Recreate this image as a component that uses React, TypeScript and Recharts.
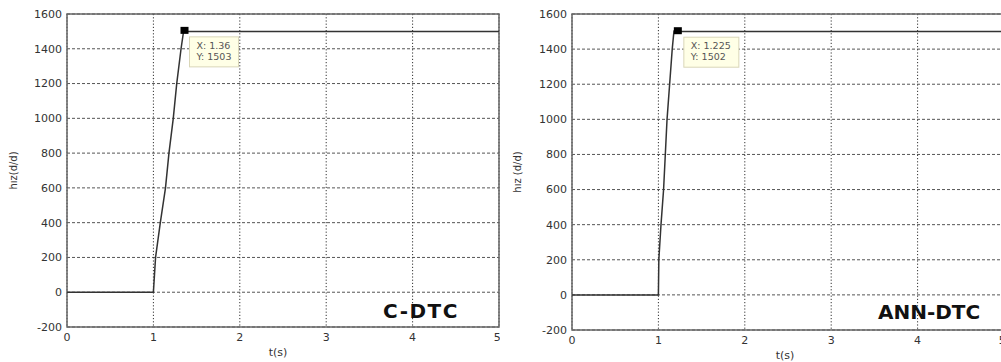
import React from 'react';
import { LineChart, Line, XAxis, YAxis, CartesianGrid, ReferenceArea, ReferenceDot } from 'recharts';

const xTicks = [0, 1, 2, 3, 4, 5];
const yTicks = [-200, 0, 200, 400, 600, 800, 1000, 1200, 1400, 1600];

const cdtcTime = [0, 1, 1.025, 1.08, 1.14, 1.18, 1.23, 1.27, 1.32, 1.35, 1.37, 5];
const cdtcSpeed = [0, 0, 200, 400, 600, 800, 1000, 1200, 1400, 1503, 1500, 1500];
const annTime = [0, 1, 1.005, 1.03, 1.06, 1.08, 1.1, 1.13, 1.16, 1.18, 1.2, 5];
const annSpeed = [0, 0, 200, 400, 600, 800, 1000, 1200, 1400, 1502, 1500, 1500];

const cdtcTip = { x: 1.36, y: 1503, lx: 'X: 1.36', ly: 'Y: 1503' };
const annTip = { x: 1.225, y: 1502, lx: 'X: 1.225', ly: 'Y: 1502' };

const rows = (t: number[], v: number[]) => t.map((x, i) => ({ t: x, v: v[i] }));

const FONT = '"DejaVu Sans", sans-serif';
const AX = '#666';

const makeTip = (tip: { lx: string; ly: string }, boxW: number, boxDx: number) => (props: any) => {
  const { cx, cy } = props;
  return (
    <g>
      <rect x={cx + boxDx} y={cy + 6} width={boxW} height={30} fill="#ffffe6" stroke="#d9d6b8" strokeWidth={1} />
      <text x={cx + boxDx + 7} y={cy + 18} fontSize={9.5} fill="#555" fontFamily={FONT}>{tip.lx}</text>
      <text x={cx + boxDx + 7} y={cy + 29} fontSize={9.5} fill="#555" fontFamily={FONT}>{tip.ly}</text>
      <rect x={cx - 4} y={cy - 4} width={8} height={7} fill="#000" />
    </g>
  );
};

function Panel(props: {
  data: { t: number; v: number }[];
  width: number;
  yAxisW: number;
  bottom: number;
  tip: { x: number; y: number; lx: string; ly: string };
  boxW: number;
  boxDx: number;
  yLabel: string;
  yLabelOffset: number;
  xLabelDx: number;
}) {
  const { data, width, yAxisW, bottom, tip, boxW, boxDx, yLabel, yLabelOffset, xLabelDx } = props;
  return (
    <LineChart width={width} height={362} data={data} margin={{ top: 14, right: 1, bottom, left: 0 }}>
      <CartesianGrid vertical={false} horizontal={true} stroke="#555" strokeDasharray="3 2" strokeWidth={1} />
      <CartesianGrid vertical={true} horizontal={false} stroke="#333" strokeDasharray="1.2 2" strokeWidth={1} />
      <XAxis
        dataKey="t"
        type="number"
        domain={[0, 5]}
        ticks={xTicks}
        allowDataOverflow
        height={30}
        tickSize={0}
        tickMargin={6}
        axisLine={false}
        tick={{ fontSize: 11, fill: '#333', fontFamily: FONT }}
        label={{ value: 't(s)', position: 'insideBottom', offset: 1, dx: xLabelDx, fontSize: 11, fill: '#333', fontFamily: FONT }}
      />
      <YAxis
        type="number"
        domain={[-200, 1600]}
        ticks={yTicks}
        allowDataOverflow
        width={yAxisW}
        tickSize={0}
        tickMargin={5}
        axisLine={false}
        tick={{ fontSize: 11, fill: '#333', fontFamily: FONT }}
        label={{ value: yLabel, angle: -90, position: 'insideLeft', offset: yLabelOffset, fontSize: 10, fill: '#333', fontFamily: FONT, style: { textAnchor: 'middle' } }}
      />
      <ReferenceArea x1={0} x2={5} y1={-200} y2={1600} fill="none" stroke={AX} strokeWidth={1.5} />
      <Line type="linear" dataKey="v" stroke="#333" strokeWidth={1.5} dot={false} isAnimationActive={false} />
      <ReferenceDot x={tip.x} y={tip.y} r={4} shape={makeTip(tip, boxW, boxDx)} />
    </LineChart>
  );
}

export default function App() {
  return (
    <div style={{ position: 'absolute', left: 0, top: 0, width: 1001, height: 362, background: '#fff', overflow: 'hidden' }}>
      <div style={{ position: 'absolute', left: 0, top: 0, width: 500, height: 362 }}>
        <Panel data={rows(cdtcTime, cdtcSpeed)} width={500} yAxisW={67} bottom={5} tip={cdtcTip} boxW={49} boxDx={5} yLabel="hız(d/d)" yLabelOffset={13} xLabelDx={-5} />
      </div>
      <div style={{ position: 'absolute', left: 500, top: 0, width: 501, height: 362, overflow: 'hidden' }}>
        <Panel data={rows(annTime, annSpeed)} width={505} yAxisW={72} bottom={2} tip={annTip} boxW={55} boxDx={6} yLabel="hız (d/d)" yLabelOffset={17} xLabelDx={-3} />
      </div>
      <svg width={1001} height={362} style={{ position: 'absolute', left: 0, top: 0, pointerEvents: 'none' }}>
        <text x={383} y={318} fontSize={20} fontWeight="bold" fill="#111" fontFamily={FONT} letterSpacing={1.5}>C-DTC</text>
        <text x={878} y={319} fontSize={20} fontWeight="bold" fill="#111" fontFamily={FONT}>ANN-DTC</text>
      </svg>
    </div>
  );
}
